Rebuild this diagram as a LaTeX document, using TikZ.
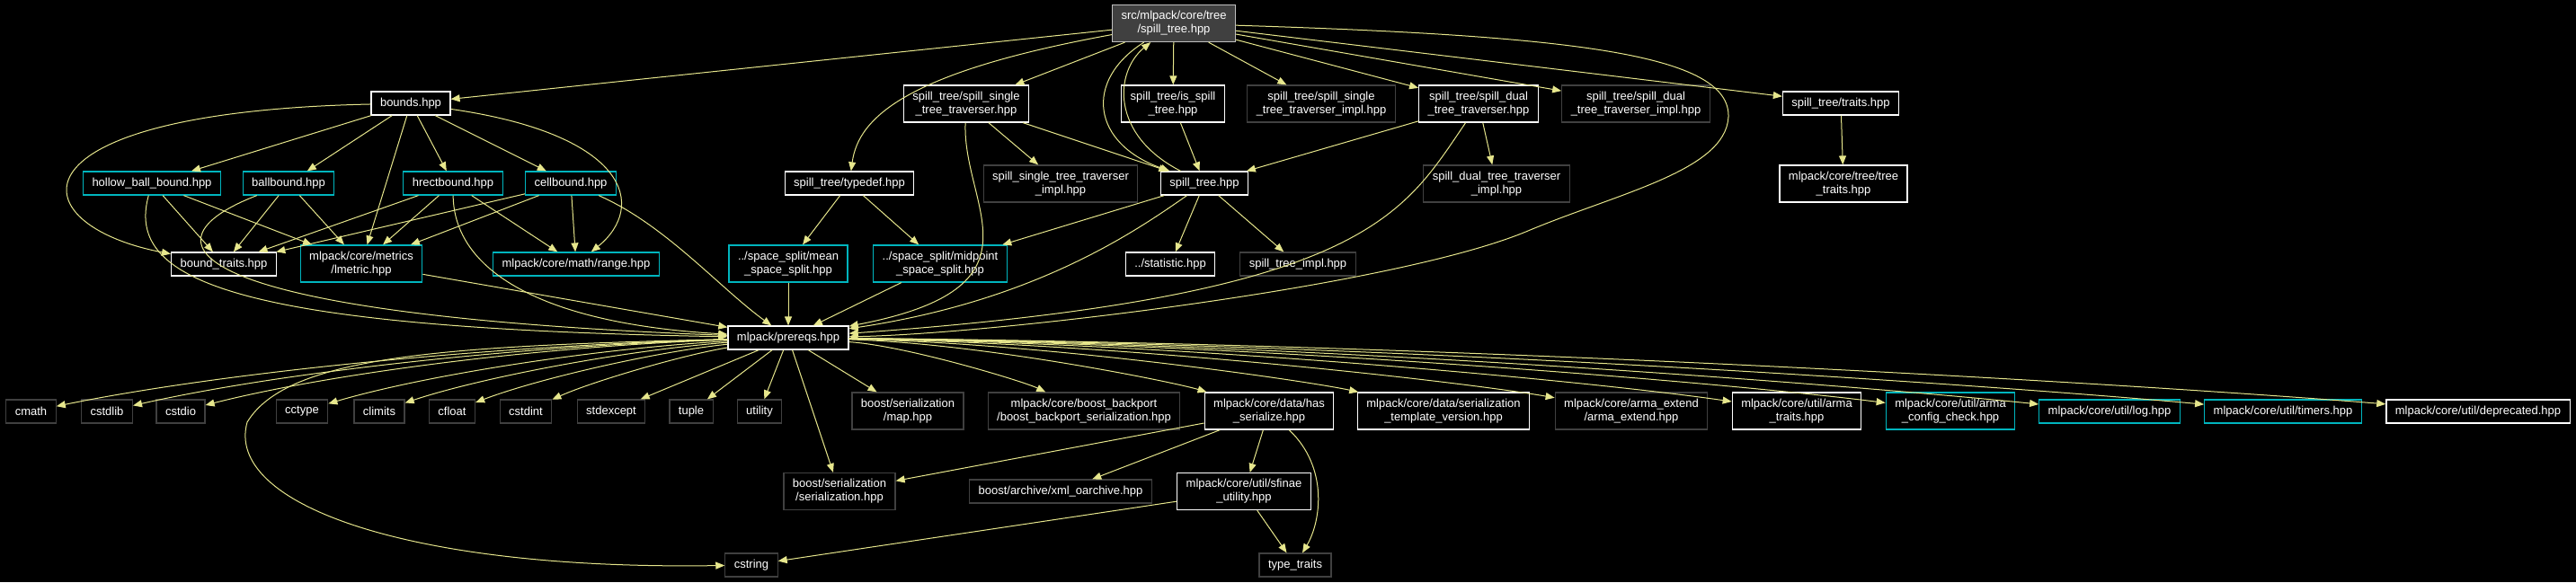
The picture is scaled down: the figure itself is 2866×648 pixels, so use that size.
\documentclass[tikz,border=0pt]{standalone}
\usepackage{fontspec}
\setmainfont{Liberation Sans}
\usetikzlibrary{arrows.meta, positioning}
\definecolor{edgeyellow}{RGB}{230,230,140}
\definecolor{linkcyan}{RGB}{0,181,190}
\definecolor{nolinkgray}{RGB}{64,64,64}
\definecolor{rootfill}{RGB}{64,64,64}
\definecolor{rootline}{RGB}{191,191,191}

\begin{document}
\begin{tikzpicture}[
    x=1pt, y=1pt,
    >={Triangle[length=10pt,width=8pt]},
    file/.style={draw, line width=1.2pt, fill=black, text=white, align=center,
                 font=\fontsize{13}{15}\selectfont, inner xsep=10pt, inner ysep=2pt,
                 minimum height=26pt},
    two/.style={minimum height=41pt},
    docfile/.style={file, draw=white},
    cyanfile/.style={file, draw=linkcyan},
    grayfile/.style={file, draw=nolinkgray},
    rootfile/.style={file, draw=rootline, fill=rootfill},
    arr/.style={->, draw=edgeyellow, line width=1pt},
]
\useasboundingbox (0,0) rectangle (2866,-648);
\fill[black] (0,0) rectangle (2866,-648);
% === The file itself (top) ===
\node[rootfile, two] (root) at (1306,-26) {src/mlpack/core/tree\\/spill\_tree.hpp};
% === Direct includes of spill_tree.hpp ===
\node[docfile] (bounds) at (457,-115) {bounds.hpp};
\node[docfile, two] (sst) at (1075,-115.5) {spill\_tree/spill\_single\\\_tree\_traverser.hpp};
\node[docfile, two] (isst) at (1305,-115.5) {spill\_tree/is\_spill\\\_tree.hpp};
\node[grayfile, two] (ssti2) at (1470,-115.5) {spill\_tree/spill\_single\\\_tree\_traverser\_impl.hpp};
\node[docfile, two] (sdt) at (1645,-115.5) {spill\_tree/spill\_dual\\\_tree\_traverser.hpp};
\node[grayfile, two] (sdti2) at (1820,-115.5) {spill\_tree/spill\_dual\\\_tree\_traverser\_impl.hpp};
\node[docfile] (traits) at (2048,-115) {spill\_tree/traits.hpp};
% === Bound headers and second level ===
\node[cyanfile] (hollow) at (169,-204) {hollow\_ball\_bound.hpp};
\node[cyanfile] (ballb) at (321,-204) {ballbound.hpp};
\node[cyanfile] (hrect) at (504,-204) {hrectbound.hpp};
\node[cyanfile] (cellb) at (635,-204) {cellbound.hpp};
\node[docfile] (typedef) at (945,-204) {spill\_tree/typedef.hpp};
\node[grayfile, two] (ssti3) at (1180,-204.5) {spill\_single\_tree\_traverser\\\_impl.hpp};
\node[docfile] (stree) at (1340,-204) {spill\_tree.hpp};
\node[grayfile, two] (sdti3) at (1665,-204.5) {spill\_dual\_tree\_traverser\\\_impl.hpp};
\node[docfile, two] (treetr) at (2051,-204.5) {mlpack/core/tree/tree\\\_traits.hpp};
% === Third level ===
\node[docfile] (btraits) at (249,-294) {bound\_traits.hpp};
\node[cyanfile, two] (lmetric) at (402,-293.5) {mlpack/core/metrics\\/lmetric.hpp};
\node[cyanfile] (range) at (641,-294) {mlpack/core/math/range.hpp};
\node[cyanfile, two] (mean) at (877,-293.5) {../space\_split/mean\\\_space\_split.hpp};
\node[cyanfile, two] (midpt) at (1046,-293.5) {../space\_split/midpoint\\\_space\_split.hpp};
\node[docfile] (statistic) at (1302,-294) {../statistic.hpp};
\node[grayfile] (stimpl) at (1444,-294) {spill\_tree\_impl.hpp};
% === Prerequisites ===
\node[docfile] (prereqs) at (877,-376) {mlpack/prereqs.hpp};
% === Includes of prereqs.hpp ===
\node[grayfile] (cmath) at (34.5,-458) {cmath};
\node[grayfile] (cstdlib) at (119,-458) {cstdlib};
\node[grayfile] (cstdio) at (201,-458) {cstdio};
\node[grayfile] (cctype) at (336,-458) {cctype};
\node[grayfile] (climits) at (422,-458) {climits};
\node[grayfile] (cfloat) at (503,-458) {cfloat};
\node[grayfile] (cstdint) at (585,-458) {cstdint};
\node[grayfile] (stdexcept) at (680,-458) {stdexcept};
\node[grayfile] (tuple) at (769,-458) {tuple};
\node[grayfile] (utility) at (845,-458) {utility};
\node[grayfile, two] (map) at (1010,-457.5) {boost/serialization\\/map.hpp};
\node[grayfile, two] (backport) at (1206,-457.5) {mlpack/core/boost\_backport\\/boost\_backport\_serialization.hpp};
\node[docfile, two] (hasser) at (1412,-457.5) {mlpack/core/data/has\\\_serialize.hpp};
\node[docfile, two] (tmplver) at (1606,-457.5) {mlpack/core/data/serialization\\\_template\_version.hpp};
\node[grayfile, two] (armaext) at (1815,-457.5) {mlpack/core/arma\_extend\\/arma\_extend.hpp};
\node[docfile, two] (armatr) at (1999,-457.5) {mlpack/core/util/arma\\\_traits.hpp};
\node[cyanfile, two] (armacfg) at (2170,-457.5) {mlpack/core/util/arma\\\_config\_check.hpp};
\node[cyanfile] (log) at (2347,-458) {mlpack/core/util/log.hpp};
\node[cyanfile] (timers) at (2540,-458) {mlpack/core/util/timers.hpp};
\node[docfile] (deprec) at (2757,-458) {mlpack/core/util/deprecated.hpp};
% === Lowest levels ===
\node[grayfile, two] (ser) at (934,-547) {boost/serialization\\/serialization.hpp};
\node[grayfile] (xml) at (1180,-547) {boost/archive/xml\_oarchive.hpp};
\node[docfile, two] (sfinae) at (1384,-547) {mlpack/core/util/sfinae\\\_utility.hpp};
\node[grayfile] (cstring) at (836,-629) {cstring};
\node[grayfile] (ttraits) at (1441,-629) {type\_traits};
% === Edges out of spill_tree.hpp ===
\draw[arr] (root) -- (bounds);
\draw[arr] (root) .. controls (1010,-80) and (955,-130) .. (typedef);
\draw[arr] (root) -- (sst);
\draw[arr] (root) -- (isst);
\draw[arr] (root) -- (ssti2);
\draw[arr] (root) -- (sdt);
\draw[arr] (root) -- (sdti2);
\draw[arr] (root) -- (traits);
% the long way round to prereqs.hpp, passing right of the traverser impl
\draw[arr] (root) .. controls (1750,-40) and (1925,-60) .. (1923,-130) .. controls (1920,-190) and (1800,-215) .. (1700,-257) .. controls (1550,-320) and (1100,-372) .. (prereqs);
\draw[arr] (root) .. controls (1205,-90) and (1215,-160) .. (stree);
\draw[arr] (stree) .. controls (1235,-150) and (1240,-80) .. (root);
% === Traversers, traits, typedef ===
\draw[arr] (sst) -- (ssti3);
\draw[arr] (sst) -- (stree);
\draw[arr] (sst) .. controls (1070,-230) and (1170,-320) .. (prereqs);
\draw[arr] (isst) -- (stree);
\draw[arr] (sdt) -- (stree);
\draw[arr] (sdt) -- (sdti3);
\draw[arr] (sdt) .. controls (1560,-240) and (1520,-330) .. (prereqs);
\draw[arr] (traits) -- (treetr);
\draw[arr] (typedef) -- (mean);
\draw[arr] (typedef) -- (midpt);
\draw[arr] (stree) -- (midpt);
\draw[arr] (stree) -- (statistic);
\draw[arr] (stree) -- (stimpl);
\draw[arr] (stree) .. controls (1260,-260) and (1150,-335) .. (prereqs);
\draw[arr] (mean) -- (prereqs);
\draw[arr] (midpt) -- (prereqs);
% === Bounds ===
\draw[arr] (bounds) -- (hollow);
\draw[arr] (bounds) -- (ballb);
\draw[arr] (bounds) -- (lmetric);
\draw[arr] (bounds) -- (hrect);
\draw[arr] (bounds) -- (cellb);
\draw[arr] (bounds) .. controls (0,-125) and (20,-250) .. (btraits);
\draw[arr] (bounds) .. controls (700,-150) and (720,-230) .. (range);
\draw[arr] (hollow) -- (btraits);
\draw[arr] (hollow) -- (lmetric);
\draw[arr] (hollow) .. controls (140,-310) and (250,-365) .. (prereqs);
\draw[arr] (ballb) -- (btraits);
\draw[arr] (ballb) -- (lmetric);
\draw[arr] (ballb) .. controls (150,-270) and (200,-350) .. (prereqs);
\draw[arr] (hrect) -- (btraits);
\draw[arr] (hrect) -- (lmetric);
\draw[arr] (hrect) -- (range);
\draw[arr] (hrect) .. controls (505,-300) and (600,-360) .. (prereqs);
\draw[arr] (cellb) -- (btraits);
\draw[arr] (cellb) -- (lmetric);
\draw[arr] (cellb) -- (range);
\draw[arr] (cellb) .. controls (740,-250) and (800,-320) .. (prereqs);
\draw[arr] (lmetric) -- (prereqs);
% === Out of prereqs.hpp ===
\draw[arr] (prereqs) .. controls (540,-385) and (245,-415) .. (cmath);
\draw[arr] (prereqs) .. controls (574,-385) and (309,-415) .. (cstdlib);
\draw[arr] (prereqs) .. controls (607,-385) and (370,-415) .. (cstdio);
\draw[arr] (prereqs) .. controls (661,-388) and (471,-418) .. (cctype);
\draw[arr] (prereqs) .. controls (695,-390) and (536,-420) .. (climits);
\draw[arr] (prereqs) .. controls (727,-392) and (597,-422) .. (cfloat);
\draw[arr] (prereqs) .. controls (760,-395) and (658,-425) .. (cstdint);
\draw[arr] (prereqs) -- (stdexcept);
\draw[arr] (prereqs) -- (tuple);
\draw[arr] (prereqs) -- (utility);
\draw[arr] (prereqs) -- (map);
\draw[arr] (prereqs) .. controls (1009,-385) and (1140,-425) .. (backport);
\draw[arr] (prereqs) .. controls (1091,-382) and (1305,-425) .. (hasser);
\draw[arr] (prereqs) .. controls (1169,-382) and (1460,-425) .. (tmplver);
\draw[arr] (prereqs) .. controls (1252,-382) and (1627,-425) .. (armaext);
\draw[arr] (prereqs) .. controls (1326,-382) and (1775,-425) .. (armatr);
\draw[arr] (prereqs) .. controls (1394,-382) and (1911,-425) .. (armacfg);
\draw[arr] (prereqs) .. controls (1465,-382) and (2053,-428) .. (log);
\draw[arr] (prereqs) .. controls (1542,-382) and (2207,-428) .. (timers);
\draw[arr] (prereqs) .. controls (1629,-382) and (2381,-428) .. (deprec);
\draw[arr] (prereqs) -- (ser);
% cstring: down between cstdio and cctype, then back right
\draw[arr] (prereqs) .. controls (500,-385) and (320,-395) .. (275,-470) .. controls (250,-560) and (450,-635) .. (cstring);
% === has_serialize and sfinae ===
\draw[arr] (hasser) -- (ser);
\draw[arr] (hasser) -- (xml);
\draw[arr] (hasser) -- (sfinae);
\draw[arr] (hasser) .. controls (1478,-520) and (1470,-580) .. (ttraits);
\draw[arr] (sfinae) -- (ttraits);
\draw[arr] (sfinae) -- (cstring);
\end{tikzpicture}
\end{document}
